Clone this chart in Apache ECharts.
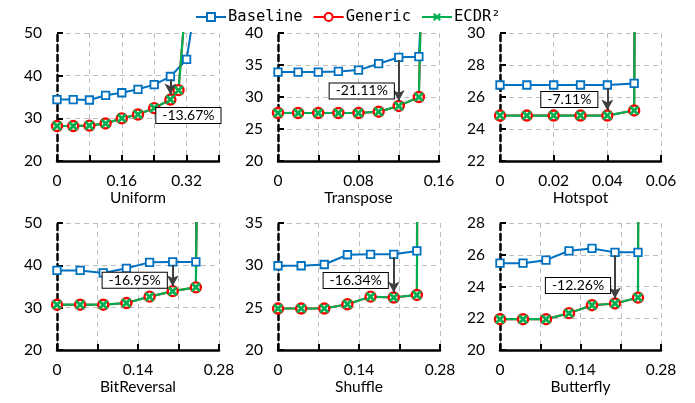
<!DOCTYPE html>
<html>
<head>
<meta charset="utf-8">
<script src="https://cdn.jsdelivr.net/npm/echarts@6/dist/echarts.min.js"></script>
<style>
  html, body { margin: 0; padding: 0; background: #fff; }
  #main { width: 695px; height: 403px; }
</style>
</head>
<body>
<div id="main"></div>
<script>
// panel titles (x axis names)
const panelNames = ['Uniform', 'Transpose', 'Hotspot', 'BitReversal', 'Shuffle', 'Butterfly'];

// x values of the sample points (last point is off the top of the chart)
const uniformBaseX = [0, 0.04, 0.08, 0.12, 0.16, 0.20, 0.24, 0.28, 0.32, 0.36];
const uniformGenX = [0, 0.04, 0.08, 0.12, 0.16, 0.20, 0.24, 0.28, 0.30, 0.32];
const transposeX = [0, 0.02, 0.04, 0.06, 0.08, 0.10, 0.12, 0.14, 0.15];
const hotspotX = [0, 0.01, 0.02, 0.03, 0.04, 0.05, 0.051];
const lowerX = [0, 0.04, 0.08, 0.12, 0.16, 0.20, 0.24, 0.245];

// latency values
const uniformBase = [34.4, 34.4, 34.3, 35.4, 36.0, 36.8, 37.9, 39.8, 43.8, 68];
const uniformGen = [28.2, 28.2, 28.3, 28.8, 30.0, 30.9, 32.4, 34.4, 36.6, 60];
const uniformEcdr = [28.2, 28.2, 28.3, 28.8, 30.0, 30.9, 32.4, 34.4, 36.6, 60];

const transposeBase = [33.9, 33.9, 33.9, 34.0, 34.2, 35.2, 36.2, 36.3, 70];
const transposeGen = [27.5, 27.5, 27.5, 27.5, 27.5, 27.7, 28.6, 30.0, 100];
const transposeEcdr = [27.5, 27.5, 27.5, 27.5, 27.5, 27.7, 28.6, 30.0, 100];

const hotspotBase = [26.75, 26.75, 26.75, 26.75, 26.75, 26.85, 60];
const hotspotGen = [24.84, 24.84, 24.84, 24.84, 24.84, 25.16, 60];
const hotspotEcdr = [24.84, 24.84, 24.84, 24.84, 24.84, 25.16, 60];

const bitrevBase = [38.8, 38.8, 38.2, 39.3, 40.7, 40.8, 40.8, 100];
const bitrevGen = [30.7, 30.7, 30.7, 31.1, 32.6, 33.9, 34.8, 100];
const bitrevEcdr = [30.7, 30.7, 30.7, 31.1, 32.6, 33.9, 34.8, 100];

const shuffleBase = [29.95, 29.95, 30.1, 31.25, 31.3, 31.3, 31.7, 100];
const shuffleGen = [24.9, 24.9, 24.9, 25.4, 26.3, 26.2, 26.5, 100];
const shuffleEcdr = [24.9, 24.9, 24.9, 25.4, 26.3, 26.2, 26.5, 100];

const butterflyBase = [25.47, 25.47, 25.66, 26.25, 26.4, 26.15, 26.15, 100];
const butterflyGen = [21.94, 21.94, 21.94, 22.32, 22.82, 22.93, 23.3, 100];
const butterflyEcdr = [21.94, 21.94, 21.94, 22.32, 22.82, 22.93, 23.3, 100];

// axis ranges
const yMin = [20, 20, 22, 20, 20, 20];
const yMax = [50, 40, 30, 50, 35, 28];
const yStep = [10, 5, 2, 10, 5, 2];
const xMax = [0.40, 0.16, 0.06, 0.28, 0.28, 0.28];
const xStep = [0.08, 0.04, 0.02, 0.07, 0.07, 0.07];
const xLabelStep = [0.16, 0.08, 0.02, 0.14, 0.14, 0.14];

// reduction annotations
const annX = [0.28, 0.12, 0.04, 0.20, 0.20, 0.20];
const annText = ['-13.67%', '-21.11%', '-7.11%', '-16.95%', '-16.34%', '-12.26%'];

const panels = [
  { bx: uniformBaseX, b: uniformBase, gx: uniformGenX, g: uniformGen, e: uniformEcdr },
  { bx: transposeX, b: transposeBase, gx: transposeX, g: transposeGen, e: transposeEcdr },
  { bx: hotspotX, b: hotspotBase, gx: hotspotX, g: hotspotGen, e: hotspotEcdr },
  { bx: lowerX, b: bitrevBase, gx: lowerX, g: bitrevGen, e: bitrevEcdr },
  { bx: lowerX, b: shuffleBase, gx: lowerX, g: shuffleGen, e: shuffleEcdr },
  { bx: lowerX, b: butterflyBase, gx: lowerX, g: butterflyGen, e: butterflyEcdr }
];

// layout
const grids = [
  { left: 57, top: 33, width: 162, height: 128 },
  { left: 278, top: 33, width: 161, height: 128 },
  { left: 500, top: 33, width: 161, height: 128 },
  { left: 57, top: 223, width: 162, height: 127 },
  { left: 278, top: 223, width: 162, height: 127 },
  { left: 500, top: 223, width: 161, height: 127 }
];
const boxOffset = [[18, 16], [-37, -15], [-38, -16], [-38, -11], [-38, -17], [-37, -18]];

const BLUE = '#0070C0', RED = '#FF0000', GREEN = '#00B050';
const FONT = 'Lato';
const crossPath = 'path://M2,0L5,3L8,0L10,2L7,5L10,8L8,10L5,7L2,10L0,8L3,5L0,2Z';

function zip(xs, ys) {
  return ys.map((y, k) => [xs[k], y]);
}

const xAxes = [], yAxes = [], series = [];
panels.forEach((p, i) => {
  const step = xLabelStep[i];
  xAxes.push({
    type: 'value', gridIndex: i, min: 0, max: xMax[i], interval: xStep[i],
    name: panelNames[i], nameLocation: 'middle', nameGap: 28,
    nameTextStyle: { fontFamily: FONT, fontSize: 15.5, color: '#000' },
    axisLine: { onZero: false, lineStyle: { color: '#000', width: 2.5 } },
    axisTick: { inside: true, length: 6, lineStyle: { color: '#000', width: 2 } },
    axisLabel: {
      margin: 12, fontFamily: FONT, fontSize: 15.5, color: '#000',
      formatter: v => {
        const k = v / step;
        return Math.abs(k - Math.round(k)) > 1e-6 ? '' : String(+v.toFixed(2));
      }
    },
    splitLine: { show: true, lineStyle: { color: '#BFBFBF', width: 1, type: [5, 4] } }
  });
  yAxes.push({
    type: 'value', gridIndex: i, min: yMin[i], max: yMax[i], interval: yStep[i],
    axisLine: { show: true, onZero: false, lineStyle: { color: '#000', width: 2.5, type: [6, 4] } },
    axisTick: { show: true, inside: true, length: 6, lineStyle: { color: '#000', width: 2 } },
    axisLabel: { margin: 15, fontFamily: FONT, fontSize: 15.5, color: '#000' },
    splitLine: { show: true, lineStyle: { color: '#BFBFBF', width: 1, type: [5, 4] } }
  });

  // annotation arrow from baseline to generic at annX
  const ax = annX[i];
  const bVal = p.b[p.bx.indexOf(ax)];
  const gVal = p.g[p.gx.indexOf(ax)];
  const perPx = (yMax[i] - yMin[i]) / grids[i].height;

  series.push({
    name: 'Baseline', type: 'line', xAxisIndex: i, yAxisIndex: i,
    data: zip(p.bx, p.b), clip: true,
    symbol: 'rect', symbolSize: 7.5, showAllSymbol: true,
    lineStyle: { color: BLUE, width: 2 },
    itemStyle: { color: '#fff', borderColor: BLUE, borderWidth: 1.8 },
    markLine: {
      silent: true, animation: false,
      symbol: ['none', 'arrow'], symbolSize: [9, 11],
      label: { show: false },
      lineStyle: { color: '#404040', width: 2, type: 'solid' },
      data: [[{ coord: [ax, bVal - 3 * perPx] }, { coord: [ax, gVal + 5 * perPx] }]]
    },
    markPoint: {
      silent: true, animation: false,
      symbol: 'circle', symbolSize: 1,
      itemStyle: { color: 'rgba(0,0,0,0)' },
      label: {
        show: true, position: 'inside', offset: boxOffset[i],
        formatter: annText[i], fontFamily: FONT, fontSize: 14, color: '#000',
        backgroundColor: '#fff', borderColor: '#000', borderWidth: 1,
        padding: [1, 6, 0, 6]
      },
      data: [{ coord: [ax, gVal] }]
    }
  });
  series.push({
    name: 'Generic', type: 'line', xAxisIndex: i, yAxisIndex: i,
    data: zip(p.gx, p.g), clip: true,
    symbol: 'circle', symbolSize: 10, showAllSymbol: true,
    lineStyle: { color: RED, width: 2 },
    itemStyle: { color: '#fff', borderColor: RED, borderWidth: 2.4 }
  });
  series.push({
    name: 'ECDR\u00b2', type: 'line', xAxisIndex: i, yAxisIndex: i,
    data: zip(p.gx, p.e), clip: true,
    symbol: crossPath, symbolSize: 10, showAllSymbol: true,
    lineStyle: { color: GREEN, width: 2.2 },
    itemStyle: { color: GREEN }
  });
});

const chart = echarts.init(document.getElementById('main'), null, { renderer: 'canvas' });
chart.setOption({
  animation: false,
  backgroundColor: '#fff',
  legend: {
    left: 190, top: 4,
    itemWidth: 30, itemHeight: 10, itemGap: 10,
    data: ['Baseline', 'Generic', 'ECDR\u00b2'],
    textStyle: { fontFamily: 'DejaVu Sans Mono', fontSize: 15.5, color: '#000', padding: [0, 0, 0, -3] }
  },
  grid: grids,
  xAxis: xAxes,
  yAxis: yAxes,
  series: series
});
</script>
</body>
</html>
